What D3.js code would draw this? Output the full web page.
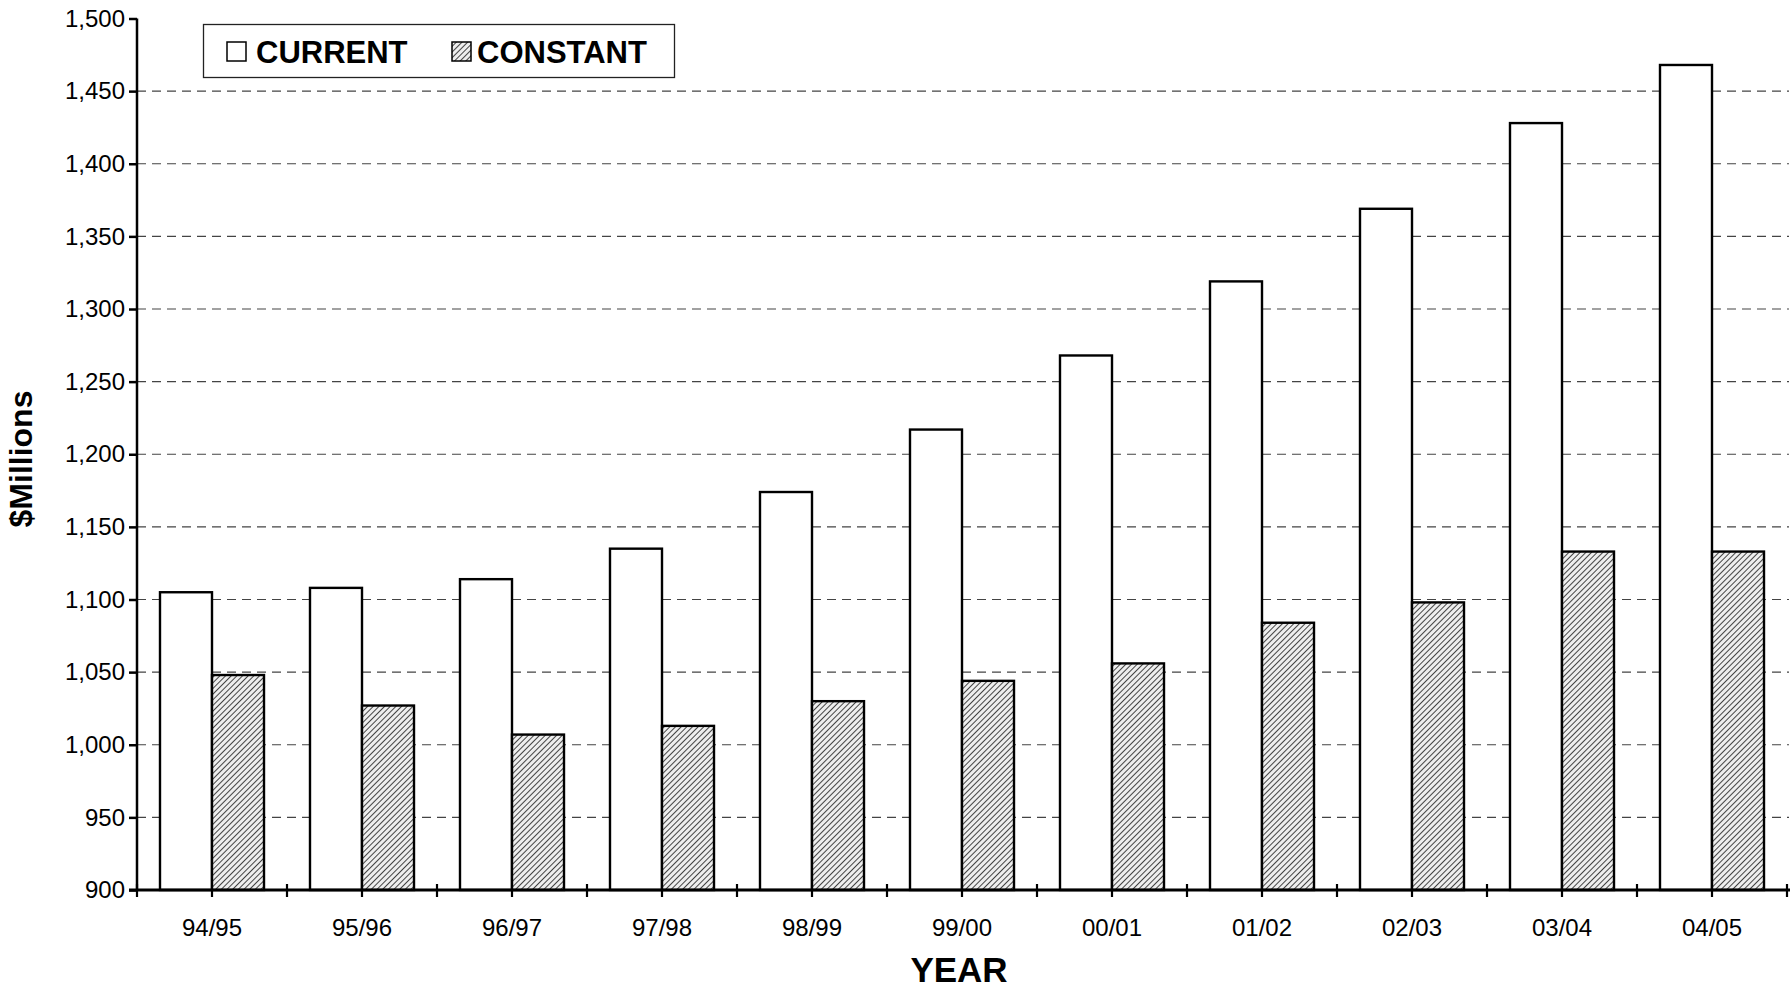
<!DOCTYPE html>
<html>
<head>
<meta charset="utf-8">
<script src="https://cdn.jsdelivr.net/npm/d3@7"></script>
<style>
  html, body { margin: 0; padding: 0; background: #fff; }
  svg { display: block; font-family: "Liberation Sans", Arial, sans-serif; }
</style>
</head>
<body>
<svg id="chart" width="1791" height="988"></svg>
<script>
const years = ["94/95","95/96","96/97","97/98","98/99","99/00","00/01","01/02","02/03","03/04","04/05"];
const currentValues = [1105, 1108, 1114, 1135, 1174, 1217, 1268, 1319, 1369, 1428, 1468];
const constantValues = [1048, 1027, 1007, 1013, 1030, 1044, 1056, 1084, 1098, 1133, 1133];
const seriesNames = ["CURRENT", "CONSTANT"];
const yTicks = [900, 950, 1000, 1050, 1100, 1150, 1200, 1250, 1300, 1350, 1400, 1450, 1500];
const yTitle = "$Millions";
const xTitle = "YEAR";

(function () {
const svg = d3.select("#chart");
const pLeft = 137, pRight = 1787, pTop = 18.5, pBottom = 890;

const defs = svg.append("defs");
const pat = defs.append("pattern")
  .attr("id", "hatch").attr("patternUnits", "userSpaceOnUse")
  .attr("width", 4).attr("height", 4)
  .attr("patternTransform", "rotate(45)");
pat.append("rect").attr("width", 4).attr("height", 4).attr("fill", "#eeeeee");
pat.append("line").attr("x1", 0).attr("y1", 0).attr("x2", 0).attr("y2", 4)
  .attr("stroke", "#444").attr("stroke-width", 2);

const x = d3.scaleBand().domain(years).range([pLeft, pRight]).padding(0);
const step = x.step();
const inner = d3.scaleBand().domain(seriesNames)
  .range([step * 0.1533, step * 0.8467]).padding(0);
const y = d3.scaleLinear().domain([900, 1500]).range([pBottom, pTop]);

// gridlines
svg.append("g").selectAll("line")
  .data(yTicks.filter(v => v > 900 && v < 1500))
  .join("line")
  .attr("x1", pLeft).attr("x2", 1789)
  .attr("y1", d => y(d)).attr("y2", d => y(d))
  .attr("stroke", "#444").attr("stroke-width", 1.1)
  .attr("stroke-dasharray", "9,6");

// bars
const rows = years.map((yr, i) => ({ yr, CURRENT: currentValues[i], CONSTANT: constantValues[i] }));
const groups = svg.append("g").selectAll("g")
  .data(rows).join("g")
  .attr("transform", d => `translate(${x(d.yr)},0)`);
groups.selectAll("rect")
  .data(d => seriesNames.map(k => ({ k, v: d[k] })))
  .join("rect")
  .attr("x", d => inner(d.k))
  .attr("width", inner.bandwidth())
  .attr("y", d => y(d.v))
  .attr("height", d => y(900) - y(d.v))
  .attr("fill", d => d.k === "CURRENT" ? "#fff" : "url(#hatch)")
  .attr("stroke", "#000").attr("stroke-width", 2.4);

// y axis
const yAxis = svg.append("g")
  .attr("transform", `translate(${pLeft},0)`)
  .call(d3.axisLeft(y).tickValues(yTicks).tickSize(8).tickPadding(4)
    .tickFormat(d3.format(",")));
yAxis.select(".domain").attr("stroke", "#000").attr("stroke-width", 2.5)
  .attr("d", `M0,${pTop}V${pBottom}`);
yAxis.selectAll(".tick line").attr("stroke", "#000").attr("stroke-width", 2.5);
yAxis.selectAll("text").attr("font-size", 24).attr("fill", "#000")
  .attr("font-family", "Liberation Sans, Arial, sans-serif");

// x axis
const xAxis = svg.append("g")
  .attr("transform", `translate(0,${pBottom})`)
  .call(d3.axisBottom(x).tickSize(7).tickPadding(22));
xAxis.select(".domain").attr("stroke", "#000").attr("stroke-width", 3)
  .attr("d", `M${pLeft - 8},0H1790`);
xAxis.selectAll(".tick line").attr("stroke", "#000").attr("stroke-width", 2.2);
xAxis.selectAll("text").attr("font-size", 24).attr("fill", "#000")
  .attr("font-family", "Liberation Sans, Arial, sans-serif");
// boundary ticks
const bounds = d3.range(years.length + 1).map(i => pLeft + i * step);
svg.append("g").selectAll("line").data(bounds).join("line")
  .attr("x1", d => d).attr("x2", d => d)
  .attr("y1", pBottom - 6).attr("y2", pBottom + 7)
  .attr("stroke", "#000").attr("stroke-width", 2.2);

// axis titles
svg.append("text")
  .attr("transform", "translate(32,459) rotate(-90)")
  .attr("text-anchor", "middle")
  .attr("font-size", 32).attr("font-weight", "bold")
  .text(yTitle);
svg.append("text")
  .attr("x", 959).attr("y", 982)
  .attr("text-anchor", "middle")
  .attr("font-size", 35).attr("font-weight", "bold")
  .text(xTitle);

// legend
const lg = svg.append("g");
lg.append("rect").attr("x", 203.5).attr("y", 24.5).attr("width", 471).attr("height", 53)
  .attr("fill", "#fff").attr("stroke", "#222").attr("stroke-width", 1.3);
const legendItems = [
  { name: seriesNames[0], sx: 227, tx: 256, fill: "#fff" },
  { name: seriesNames[1], sx: 452, tx: 477, fill: "url(#hatch)" }
];
legendItems.forEach(it => {
  lg.append("rect").attr("x", it.sx).attr("y", 42).attr("width", 19).attr("height", 19)
    .attr("fill", it.fill).attr("stroke", "#000").attr("stroke-width", 1.5);
  lg.append("text").attr("x", it.tx).attr("y", 63)
    .attr("font-size", 31).attr("font-weight", "bold").text(it.name);
});
})();
</script>
</body>
</html>
